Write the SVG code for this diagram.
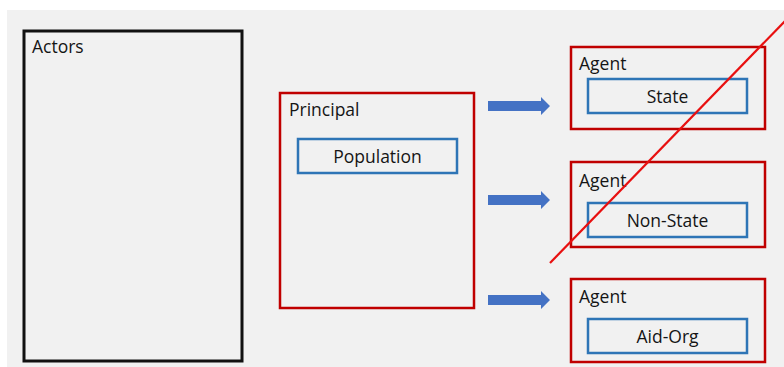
<svg xmlns="http://www.w3.org/2000/svg" width="784" height="367" viewBox="0 0 784 367">
<style>
text{font-family:"Open Sans","Noto Sans","Liberation Sans",sans-serif;font-size:17.5px;fill:#151515}
.red{fill:none;stroke:#c00000;stroke-width:2.5}
.blue{fill:none;stroke:#2e75b6;stroke-width:2.5}
.mid{text-anchor:middle}
</style>
<defs>
<path id="arr" d="M0,-5 H53 V-9 L62,0 L53,9 V5 H0 Z" fill="#4472c4"/>
</defs>
<rect x="0" y="0" width="784" height="367" fill="#ffffff"/>
<rect x="7" y="10" width="777" height="357" fill="#f1f1f1"/>
<g id="actors">
<rect x="24" y="31" width="218" height="330" fill="none" stroke="#111" stroke-width="3"/>
<text x="32" y="53">Actors</text>
</g>
<g id="principal">
<rect class="red" x="280" y="93" width="194" height="215"/>
<text x="289" y="116">Principal</text>
</g>
<g id="population">
<rect class="blue" x="298" y="139" width="159" height="34"/>
<text class="mid" x="377.5" y="163">Population</text>
</g>
<g id="agent-state">
<rect class="red" x="571" y="47" width="194" height="82"/>
<text x="579" y="70">Agent</text>
<rect class="blue" x="588" y="79" width="159" height="34"/>
<text class="mid" x="667.5" y="103">State</text>
</g>
<g id="agent-nonstate">
<rect class="red" x="571" y="162" width="194" height="85"/>
<text x="579" y="187">Agent</text>
<rect class="blue" x="588" y="203" width="159" height="34"/>
<text class="mid" x="667.5" y="227">Non-State</text>
</g>
<g id="agent-aidorg">
<rect class="red" x="571" y="279" width="194" height="83"/>
<text x="579" y="303">Agent</text>
<rect class="blue" x="588" y="319" width="159" height="34"/>
<text class="mid" x="667.5" y="343">Aid-Org</text>
</g>
<g id="connectors">
<use href="#arr" x="488" y="106"/>
<use href="#arr" x="488" y="200"/>
<use href="#arr" x="488" y="300"/>
<line x1="550" y1="263" x2="786" y2="20" stroke="#e81010" stroke-width="2.2"/>
</g>
</svg>
